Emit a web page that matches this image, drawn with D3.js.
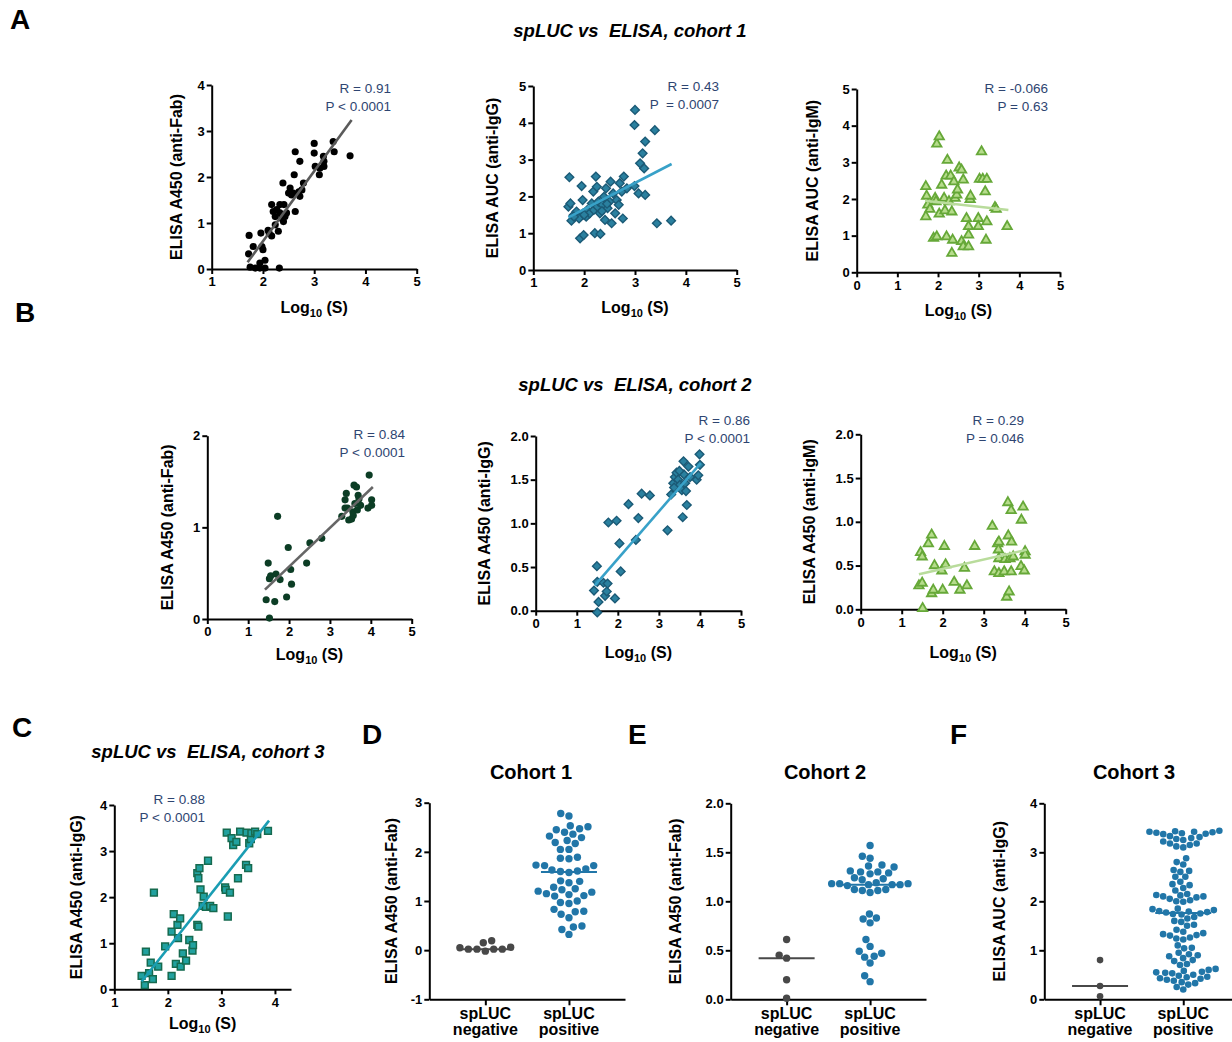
<!DOCTYPE html>
<html>
<head>
<meta charset="utf-8">
<script src="https://cdn.jsdelivr.net/npm/d3@7"></script>
<style>
  body { margin: 0; background: #fff; }
  svg { font-family: "Liberation Sans", Arial, sans-serif; }
</style>
</head>
<body>
<svg id="fig" width="1232" height="1042"></svg>
<script>
// ---- data: [log10(S), ELISA] ----
var fabC1 = [[1.72,0.33],[1.73,0.73],[1.81,0.49],[1.75,0.04],[1.85,0.02],[1.94,0.13],[1.94,0.02],[1.96,0.78],[1.98,0.49],[2.0,0.42],[2.04,0.19],[2.04,0.02],[2.1,0.84],[2.17,0.72],[2.17,1.4],[2.2,1.25],[2.24,1.14],[2.27,1.29],[2.24,0.96],[2.3,0.82],[2.32,0.02],[2.33,1.4],[2.37,1.1],[2.4,1.03],[2.41,1.4],[2.39,1.87],[2.43,1.14],[2.5,1.65],[2.53,1.76],[2.56,1.61],[2.59,1.65],[2.61,2.05],[2.63,2.55],[2.63,1.25],[2.72,1.58],[2.72,2.34],[2.76,1.72],[2.79,1.87],[3.0,2.73],[3.0,2.52],[3.02,2.23],[3.1,2.05],[3.11,2.19],[3.18,2.45],[3.19,2.34],[3.19,2.23],[3.37,2.77],[3.39,2.55],[3.7,2.46],[2.33,1.22],[2.46,1.22],[2.12,0.78],[2.7,1.68]];
var igGC1 = [[1.71,2.52],[1.69,1.72],[1.73,1.81],[1.75,1.34],[1.79,1.49],[1.85,1.59],[1.9,1.4],[1.92,0.86],[1.95,2.28],[1.97,1.9],[1.98,1.54],[1.99,0.95],[2.04,1.45],[2.06,1.63],[2.11,1.54],[2.15,1.81],[2.18,2.13],[2.19,1.63],[2.21,1.0],[2.23,2.54],[2.25,2.26],[2.26,1.72],[2.28,1.86],[2.31,1.54],[2.32,0.98],[2.36,1.77],[2.39,1.99],[2.41,1.36],[2.43,2.22],[2.46,1.68],[2.5,1.86],[2.52,2.4],[2.54,1.27],[2.57,2.08],[2.61,1.54],[2.64,1.9],[2.68,1.77],[2.7,2.36],[2.74,2.13],[2.76,1.4],[2.78,2.54],[2.84,2.22],[2.99,2.28],[3.0,4.35],[2.99,3.94],[3.07,2.08],[3.1,2.9],[3.15,3.17],[3.18,2.76],[3.2,3.49],[3.2,2.04],[3.39,3.8],[3.43,1.27],[3.71,1.34],[1.8,1.45],[2.0,1.5],[2.35,1.6],[2.45,1.8]];
var igMC1 = [[1.7,2.34],[1.72,2.08],[1.7,1.52],[1.75,1.84],[1.8,1.72],[1.93,2.02],[1.95,1.93],[1.97,3.5],[2.03,3.7],[1.89,0.93],[1.97,0.97],[2.03,1.59],[2.09,2.38],[2.15,2.02],[2.17,1.68],[2.2,2.63],[2.23,3.06],[2.21,0.97],[2.27,1.93],[2.31,2.63],[2.34,1.65],[2.34,0.52],[2.36,0.88],[2.39,2.47],[2.42,2.02],[2.46,2.11],[2.48,2.25],[2.52,2.85],[2.58,2.79],[2.62,2.52],[2.58,0.84],[2.62,0.7],[2.7,1.47],[2.75,1.25],[2.75,1.02],[2.75,0.7],[2.79,1.99],[2.8,2.08],[2.99,1.47],[2.99,1.25],[3.02,2.54],[3.07,3.29],[3.1,2.54],[3.16,2.2],[3.18,0.88],[3.2,2.54],[3.2,1.38],[3.4,1.77],[3.43,1.72],[3.7,1.25]];
var fabC2 = [[1.44,0.21],[1.49,0.61],[1.52,0.01],[1.52,0.44],[1.55,0.47],[1.65,0.19],[1.68,0.49],[1.72,1.12],[1.78,0.43],[1.94,0.24],[1.98,0.78],[2.04,0.54],[2.06,0.38],[2.43,0.61],[2.51,0.83],[2.8,0.88],[3.29,1.12],[3.37,1.21],[3.37,1.3],[3.4,1.37],[3.43,1.21],[3.53,1.09],[3.56,1.17],[3.59,1.46],[3.61,1.26],[3.65,1.44],[3.67,1.19],[3.69,1.35],[3.71,1.31],[3.75,1.24],[3.93,1.21],[3.96,1.57],[4.02,1.3],[4.02,1.24],[3.57,1.13],[3.46,1.08]];
var igGC2 = [[1.42,0.23],[1.49,0.51],[1.5,0.33],[1.53,0.1],[1.5,-0.02],[1.65,0.32],[1.69,0.17],[1.73,0.22],[1.75,0.31],[1.77,1.01],[1.93,0.14],[1.97,1.03],[2.04,0.77],[2.07,0.45],[2.26,1.22],[2.44,0.81],[2.5,1.06],[2.58,1.34],[2.78,1.32],[3.21,0.92],[3.3,1.33],[3.35,1.46],[3.39,1.53],[3.43,1.58],[3.47,1.5],[3.51,1.44],[3.56,1.38],[3.58,1.07],[3.6,1.71],[3.61,1.56],[3.64,1.46],[3.66,1.37],[3.68,1.21],[3.72,1.65],[3.76,1.53],[3.92,1.5],[3.96,1.55],[3.99,1.79],[4.0,1.67],[3.37,1.41],[3.5,1.6]];
var igMC2 = [[1.42,0.27],[1.46,0.65],[1.5,0.6],[1.5,0.3],[1.51,0.01],[1.65,0.75],[1.73,0.18],[1.73,0.85],[1.77,0.22],[1.8,0.5],[1.98,0.44],[2.0,0.22],[2.04,0.72],[2.07,0.51],[2.28,0.31],[2.42,0.22],[2.53,0.47],[2.59,0.27],[2.78,0.72],[3.21,0.95],[3.26,0.43],[3.34,0.75],[3.36,0.68],[3.37,0.41],[3.37,0.58],[3.37,0.77],[3.5,0.43],[3.52,0.57],[3.56,0.14],[3.59,1.22],[3.6,0.84],[3.62,0.2],[3.64,0.58],[3.67,1.13],[3.67,0.43],[3.68,0.77],[3.72,0.6],[3.92,1.02],[3.91,0.49],[3.96,1.17],[3.99,0.44],[4.01,0.66],[4.01,0.62]];
var igGC3 = [[1.51,0.29],[1.57,0.09],[1.59,0.82],[1.65,0.35],[1.68,0.58],[1.72,0.22],[1.74,2.1],[1.82,0.49],[1.95,0.93],[2.07,0.29],[2.07,1.25],[2.11,1.63],[2.15,0.55],[2.18,1.4],[2.19,1.11],[2.23,1.54],[2.24,0.49],[2.28,0.78],[2.34,0.62],[2.4,1.07],[2.46,0.84],[2.47,0.96],[2.55,1.4],[2.57,1.36],[2.55,2.52],[2.57,2.41],[2.59,2.63],[2.61,2.17],[2.65,1.81],[2.67,2.01],[2.71,1.79],[2.75,2.79],[2.79,1.81],[2.85,1.76],[3.07,2.21],[3.08,2.16],[3.1,3.4],[3.12,1.58],[3.16,2.1],[3.19,3.28],[3.22,3.13],[3.28,3.2],[3.31,2.41],[3.35,3.42],[3.46,2.7],[3.47,3.4],[3.5,2.63],[3.52,3.17],[3.55,3.26],[3.56,3.39],[3.63,3.42],[3.67,3.37],[3.87,3.44]];

// regression line ends, as drawn
var fitA1 = [[1.70,0.145],[3.73,3.24]];
var fitA2 = [[1.69,1.43],[3.72,2.88]];
var fitA3 = [[1.68,1.95],[3.73,1.70]];
var fitB1 = [[1.41,0.32],[4.05,1.44]];
var fitB2 = [[1.44,0.29],[4.02,1.69]];
var fitB3 = [[1.42,0.40],[4.05,0.68]];
var fitC  = [[1.51,0.17],[3.89,3.66]];

var statsA1 = ["R = 0.91", "P < 0.0001"];
var statsA2 = ["R = 0.43", "P  = 0.0007"];
var statsA3 = ["R = -0.066", "P = 0.63"];
var statsB1 = ["R = 0.84", "P < 0.0001"];
var statsB2 = ["R = 0.86", "P < 0.0001"];
var statsB3 = ["R = 0.29", "P = 0.046"];
var statsC  = ["R = 0.88", "P < 0.0001"];

// spLUC negative / positive groups
var groups = ["spLUC negative", "spLUC positive"];
var negC1 = [0.02,0.06,0.02,0.05,0.15,0.19,-0.02,0.02,0.02];
var posC1 = [2.78,2.73,2.53,2.51,2.47,2.45,2.40,2.36,2.32,2.29,2.23,2.19,2.17,2.05,2.05,1.89,1.87,1.86,1.73,1.72,1.72,1.65,1.63,1.61,1.60,1.58,1.41,1.40,1.37,1.28,1.25,1.23,1.20,1.18,1.15,1.13,1.11,1.10,1.00,0.97,0.95,0.83,0.79,0.78,0.73,0.66,0.49,0.47,0.42,0.32];
var negC2 = [0.61,0.45,0.42,0.20,0.01];
var posC2 = [1.57,1.46,1.44,1.37,1.36,1.35,1.31,1.30,1.30,1.29,1.28,1.24,1.23,1.22,1.19,1.18,1.18,1.18,1.17,1.17,1.17,1.16,1.12,1.12,1.11,1.11,1.09,0.87,0.83,0.82,0.78,0.61,0.54,0.49,0.47,0.44,0.43,0.37,0.24,0.18];
var negC3 = [0.80,0.27,0.06];
var posC3 = [3.44,3.43,3.42,3.42,3.41,3.40,3.39,3.38,3.37,3.33,3.31,3.29,3.27,3.25,3.22,3.18,3.15,3.12,3.10,3.18,2.88,2.80,2.75,2.64,2.62,2.60,2.50,2.50,2.40,2.35,2.33,2.27,2.22,2.15,2.13,2.12,2.10,2.10,2.08,2.05,2.02,2.00,1.99,1.85,1.84,1.82,1.80,1.79,1.78,1.77,1.75,1.74,1.73,1.68,1.65,1.60,1.58,1.52,1.50,1.42,1.38,1.35,1.33,1.31,1.30,1.26,1.24,1.22,1.10,1.05,1.04,0.95,0.92,0.90,0.88,0.84,0.80,0.78,0.72,0.70,0.62,0.60,0.58,0.56,0.55,0.54,0.53,0.50,0.48,0.46,0.45,0.43,0.42,0.40,0.38,0.35,0.33,0.30,0.25,0.20];

var svg = d3.select("#fig");
var statColor = "#2e4571";

function styleAxis(a) {
  a.select(".domain").attr("stroke", "#000").attr("stroke-width", 2);
  a.selectAll(".tick line").attr("stroke", "#000").attr("stroke-width", 2);
  a.selectAll(".tick text").attr("font-size", "13px").attr("font-weight", "bold").attr("fill", "#000");
}

function yLabel(txt, x, y) {
  svg.append("text")
    .attr("transform", "translate(" + x + "," + y + ") rotate(-90)")
    .attr("dy", "0.35em")
    .attr("text-anchor", "middle")
    .attr("font-size", "16px").attr("font-weight", "bold")
    .text(txt);
}

function logLabel(x, y) {
  var t = svg.append("text").attr("x", x).attr("y", y)
    .attr("text-anchor", "middle").attr("font-size", "16px").attr("font-weight", "bold");
  t.append("tspan").text("Log");
  t.append("tspan").attr("font-size", "11px").attr("dy", 4).text("10");
  t.append("tspan").attr("dy", -4).text(" (S)");
}

function marker(sel, kind) {
  if (kind == "circle") {
    sel.attr("d", d3.symbol(d3.symbolCircle, 40));
  } else if (kind == "diamond") {
    sel.attr("d", d3.symbol(d3.symbolSquare, 38));
  } else if (kind == "triangle") {
    sel.attr("d", d3.symbol(d3.symbolTriangle, 38));
  } else {
    sel.attr("d", d3.symbol(d3.symbolSquare, 46));
  }
}

function scatter(p) {
  var x = d3.scaleLinear().domain(p.xd).range(p.xr);
  var y = d3.scaleLinear().domain(p.yd).range(p.yr);

  var xa = svg.append("g").attr("transform", "translate(0," + p.yr[0] + ")")
    .call(d3.axisBottom(x).tickValues(p.xt).tickSize(5).tickSizeOuter(0).tickPadding(3).tickFormat(d3.format("d")));
  var ya = svg.append("g").attr("transform", "translate(" + p.xr[0] + ",0)")
    .call(d3.axisLeft(y).tickValues(p.yt).tickSize(5).tickSizeOuter(0).tickPadding(2).tickFormat(p.yf));
  styleAxis(xa); styleAxis(ya);

  var rot = p.kind == "diamond" ? " rotate(45)" : "";
  svg.append("g").selectAll("path").data(p.data).enter().append("path")
    .call(marker, p.kind)
    .attr("transform", d => "translate(" + x(d[0]) + "," + y(d[1]) + ")" + rot)
    .attr("fill", p.fill)
    .attr("stroke", p.stroke)
    .attr("stroke-width", p.sw);

  svg.append("line")
    .attr("x1", x(p.fit[0][0])).attr("y1", y(p.fit[0][1]))
    .attr("x2", x(p.fit[1][0])).attr("y2", y(p.fit[1][1]))
    .attr("stroke", p.fitColor).attr("stroke-width", 2.6);

  svg.append("g").selectAll("text").data(p.stats).enter().append("text")
    .attr("x", p.sx).attr("y", (d, i) => p.sy + i * 18)
    .attr("text-anchor", "end")
    .attr("font-size", "13.5px").attr("fill", statColor)
    .style("white-space", "pre")
    .text(d => d);

  yLabel(p.ylab, p.lx, (p.yr[0] + p.yr[1]) / 2);
  logLabel((p.xr[0] + p.xr[1]) / 2, p.ly);
}

function beeswarm(ys, cx, r) {
  var order = d3.range(ys.length).sort((a, b) => ys[b] - ys[a]);
  var placed = [], out = [];
  order.forEach(function (i) {
    var yi = ys[i], blocks = [];
    placed.forEach(function (q) {
      var dy = Math.abs(q.y - yi);
      if (dy < 2 * r) {
        var dx = Math.sqrt(4 * r * r - dy * dy);
        blocks.push([q.x - dx, q.x + dx]);
      }
    });
    var cands = [cx];
    blocks.forEach(b => cands.push(b[0], b[1]));
    cands.sort((a, b) => Math.abs(a - cx) - Math.abs(b - cx));
    var xi = cands.find(c => blocks.every(b => c <= b[0] + 1e-6 || c >= b[1] - 1e-6));
    placed.push({ x: xi, y: yi });
    out[i] = { x: xi, y: yi };
  });
  return out;
}

function dotplot(p) {
  var x = d3.scalePoint().domain(groups).range(p.xr).padding(0.67);
  var y = d3.scaleLinear().domain(p.yd).range(p.yr);

  var xa = svg.append("g").attr("transform", "translate(0," + p.yr[0] + ")")
    .call(d3.axisBottom(x).tickSize(6).tickSizeOuter(0).tickFormat(""));
  var ya = svg.append("g").attr("transform", "translate(" + p.xr[0] + ",0)")
    .call(d3.axisLeft(y).tickValues(p.yt).tickSize(5).tickSizeOuter(0).tickPadding(2).tickFormat(p.yf));
  styleAxis(xa); styleAxis(ya);

  var sets = [{ g: groups[0], v: p.neg, c: "#484848" }, { g: groups[1], v: p.pos, c: "#2176a8" }];
  sets.forEach(function (s) {
    var cx = x(s.g);
    var pts = beeswarm(s.v.map(y), cx, p.r + p.gap);
    svg.append("g").selectAll("circle").data(pts).enter().append("circle")
      .attr("cx", d => d.x).attr("cy", d => d.y).attr("r", p.r)
      .attr("fill", s.c);
    var m = y(d3.median(s.v));
    svg.append("line").attr("x1", cx - 28).attr("x2", cx + 28)
      .attr("y1", m).attr("y2", m).attr("stroke", s.c).attr("stroke-width", 2);
    var lines = s.g.split(" ");
    lines.forEach(function (w, i) {
      svg.append("text").attr("x", cx).attr("y", p.yr[0] + 20 + i * 15.5)
        .attr("text-anchor", "middle").attr("font-size", "16px").attr("font-weight", "bold")
        .text(w);
    });
  });

  yLabel(p.ylab, p.lx, (p.yr[0] + p.yr[1]) / 2);
  svg.append("text").attr("x", p.tx).attr("y", 779).attr("text-anchor", "middle")
    .attr("font-size", "20px").attr("font-weight", "bold").text(p.title);
}

var f0 = d3.format("d"), f1 = d3.format(".1f"), fm = d => String(d);
var diamond = { kind: "diamond", fill: "#2a809f", stroke: "#1b5a76", sw: 1.4, fitColor: "#38a1c8" };
var tri = { kind: "triangle", fill: "#b6dc8c", stroke: "#66a838", sw: 1.8, fitColor: "#b9dc9c" };

scatter({ xd: [1, 5], xr: [211.7, 416.7], yd: [0, 4], yr: [269, 85], xt: [1,2,3,4,5], yt: [0,1,2,3,4], yf: f0,
  data: fabC1, kind: "circle", fill: "#000", stroke: "none", sw: 0, fit: fitA1, fitColor: "#5a5a5a",
  stats: statsA1, sx: 391, sy: 93, ylab: "ELISA A450 (anti-Fab)", lx: 176, ly: 313 });
scatter(Object.assign({ xd: [1, 5], xr: [533.3, 736.7], yd: [0, 5], yr: [270, 86], xt: [1,2,3,4,5], yt: [0,1,2,3,4,5], yf: f0,
  data: igGC1, fit: fitA2, stats: statsA2, sx: 719, sy: 91, ylab: "ELISA AUC (anti-IgG)", lx: 492, ly: 313 }, diamond));
scatter(Object.assign({ xd: [0, 5], xr: [856.7, 1060], yd: [0, 5], yr: [272.3, 89], xt: [0,1,2,3,4,5], yt: [0,1,2,3,4,5], yf: f0,
  data: igMC1, fit: fitA3, stats: statsA3, sx: 1048, sy: 93, ylab: "ELISA AUC (anti-IgM)", lx: 812, ly: 316 }, tri));

scatter({ xd: [0, 5], xr: [207.3, 411.7], yd: [0, 2], yr: [619, 435.7], xt: [0,1,2,3,4,5], yt: [0,1,2], yf: f0,
  data: fabC2, kind: "circle", fill: "#0c3d25", stroke: "none", sw: 0, fit: fitB1, fitColor: "#666",
  stats: statsB1, sx: 405, sy: 439, ylab: "ELISA A450 (anti-Fab)", lx: 167, ly: 660 });
scatter(Object.assign({ xd: [0, 5], xr: [535.7, 741], yd: [0, 2], yr: [610.7, 436], xt: [0,1,2,3,4,5], yt: [0,0.5,1,1.5,2], yf: f1,
  data: igGC2, fit: fitB2, stats: statsB2, sx: 750, sy: 425, ylab: "ELISA A450 (anti-IgG)", lx: 484, ly: 658 }, diamond));
scatter(Object.assign({ xd: [0, 5], xr: [860.7, 1065.7], yd: [0, 2], yr: [609.3, 434.3], xt: [0,1,2,3,4,5], yt: [0,0.5,1,1.5,2], yf: f1,
  data: igMC2, fit: fitB3, stats: statsB3, sx: 1024, sy: 425, ylab: "ELISA A450 (anti-IgM)", lx: 809, ly: 658 }, tri));

scatter({ xd: [1, 4.3], xr: [114.3, 291], yd: [0, 4], yr: [989.3, 805], xt: [1,2,3,4], yt: [0,1,2,3,4], yf: f0,
  data: igGC3, kind: "square", fill: "#21a19f", stroke: "#166a4f", sw: 1.5, fit: fitC, fitColor: "#1a9db3",
  stats: statsC, sx: 205, sy: 804, ylab: "ELISA A450 (anti-IgG)", lx: 76, ly: 1029 });

dotplot({ xr: [429.3, 625], yd: [-1, 3], yr: [999.3, 802.7], yt: [-1,0,1,2,3], yf: fm, r: 3.7, gap: 0.6,
  neg: negC1, pos: posC1, ylab: "ELISA A450 (anti-Fab)", lx: 391, tx: 531, title: "Cohort 1" });
dotplot({ xr: [730.7, 926], yd: [0, 2], yr: [999.3, 803.3], yt: [0,0.5,1,1.5,2], yf: f1, r: 3.7, gap: 0.3,
  neg: negC2, pos: posC2, ylab: "ELISA A450 (anti-Fab)", lx: 675, tx: 825, title: "Cohort 2" });
dotplot({ xr: [1044.3, 1239], yd: [0, 4], yr: [999.3, 803.3], yt: [0,1,2,3,4], yf: f0, r: 3.3, gap: 0.2,
  neg: negC3, pos: posC3, ylab: "ELISA AUC (anti-IgG)", lx: 999, tx: 1134, title: "Cohort 3" });

// titles and panel letters
[["spLUC vs  ELISA, cohort 1", 630, 37], ["spLUC vs  ELISA, cohort 2", 635, 391], ["spLUC vs  ELISA, cohort 3", 208, 758]]
  .forEach(function (t) {
    svg.append("text").attr("x", t[1]).attr("y", t[2]).attr("text-anchor", "middle")
      .attr("font-size", "18.5px").attr("font-weight", "bold").attr("font-style", "italic")
      .style("white-space", "pre").text(t[0]);
  });
[["A", 10, 29], ["B", 15, 322], ["C", 12, 737], ["D", 362, 744], ["E", 628, 744], ["F", 950, 744]]
  .forEach(function (t) {
    svg.append("text").attr("x", t[1]).attr("y", t[2])
      .attr("font-size", "28px").attr("font-weight", "bold").text(t[0]);
  });
</script>
</body>
</html>
